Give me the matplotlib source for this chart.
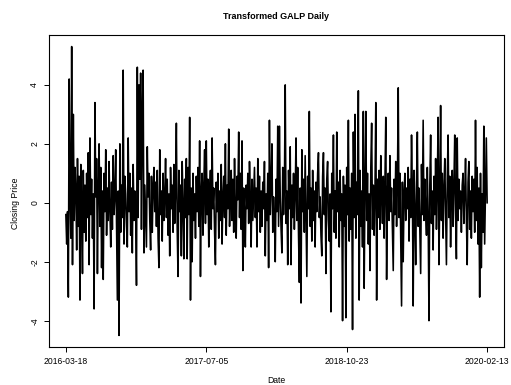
import numpy as np
import matplotlib
matplotlib.use("Agg")
import matplotlib.pyplot as plt

plt.rcParams['font.family'] = ['Liberation Sans', 'DejaVu Sans']

# valeurs (serie transformee, ~2 jours par valeur)
valeurs = [
    -0.4, -1.4, -0.3, -3.2, 4.2, 0.3, -1.2, 5.3, -2.1, 3.0, -0.6, 1.2,
    0.5, -1.6, 1.5, -0.8, 0.9, -3.3, 1.3, -0.2, -2.4, 1.1, -1.0, 0.6,
    -1.3, 1.0, -0.5, 1.7, -2.1, 2.2, -0.4, 0.8, -1.2, 0.3, -3.6, 3.4,
    0.2, 1.5, -2.4, 0.6, 2.0, -0.8, 1.2, -2.2, 0.4, -2.6, 1.0, -0.3,
    1.8, -1.1, 0.5, -0.6, 1.4, -0.2, -1.5, 0.7, -0.9, 1.6, -0.4, 0.2,
    1.8, -0.7, -3.3, 0.4, -4.5, 2.0, -1.0, 0.6, -0.5, 4.5, -1.4, 0.9,
    0.3, -0.8, -1.5, 2.2, -0.3, 1.0, -1.1, 0.5, -1.7, 1.3, -0.6, 0.4,
    -0.2, -2.8, 4.6, -0.5, 4.0, 0.8, 4.4, -0.9, 2.8, 4.5, -1.7, 0.6,
    -0.4, -1.5, 1.9, 0.2, 1.0, -0.6, -1.6, 0.9, -1.0, 0.5, 1.2, -0.3,
    0.7, -0.8, 1.1, -1.2, -2.2, 1.8, -0.4, 0.4, -1.3, 1.0, -0.6, 0.2,
    1.5, -0.5, 0.8, -1.1, 0.3, -1.8, 1.2, -0.2, 0.6, -1.0, 1.3, -0.7,
    0.4, 2.7, -0.9, -2.5, 1.1, -0.3, 0.6, -1.8, 1.4, -0.1, -1.9, 0.8,
    -0.5, 1.5, -1.9, 1.2, -0.4, 2.9, -3.3, 0.5, -2.0, 1.0, -0.6, 0.3,
    -1.2, 0.9, -0.3, 1.2, -0.8, 2.1, -2.5, 0.4, 1.0, -1.1, 0.6, 1.8,
    -0.7, 2.1, -0.4, 0.8, -1.5, 0.3, 1.1, -0.9, 2.2, -0.2, 0.5, -1.0,
    -2.1, 0.7, -0.3, 1.0, -1.2, 0.4, -0.6, 1.3, -1.4, 0.2, 0.9, -0.5,
    2.0, -1.1, 0.6, -0.2, 2.5, -0.8, 0.3, 1.1, -0.6, 0.8, -1.0, 1.5,
    -0.3, -1.2, 0.9, 0.1, 2.4, -0.5, 1.0, -0.9, 2.1, -2.3, 0.5, -0.4,
    -1.5, 0.6, -0.2, 1.0, -0.7, 1.4, 0.2, -1.5, 0.8, -0.6, 0.3, 1.2,
    -0.5, 0.5, -1.5, 1.5, -0.3, 0.9, -1.0, 0.4, -0.8, 0.7, -0.2, 1.4,
    -1.8, 0.3, -0.6, 1.0, -2.2, 2.8, -0.4, 0.6, 2.0, -1.0, 0.2, -0.5,
    -2.0, 0.8, -0.3, 2.6, -0.8, 2.6, 0.2, -0.9, -1.7, 1.2, -0.4, 0.5,
    4.0, -0.7, 0.4, -2.1, 1.1, -0.2, 1.9, -2.1, 0.6, -0.5, 1.0, -0.9,
    0.3, 2.2, -0.6, 1.2, -1.1, -2.7, 0.5, -3.4, 1.8, -0.3, 0.8, -1.0,
    1.6, -0.4, -2.5, 0.9, -0.2, 3.1, -0.8, 0.5, -1.3, 1.1, -0.6, 0.4,
    -1.5, 0.7, -0.3, 1.0, 1.7, -0.5, 0.2, -1.1, -1.8, 0.9, 1.7, -0.4,
    0.5, -2.4, 0.8, 1.4, -0.6, -1.3, 0.3, -3.7, 1.0, -0.2, 2.3, -1.0,
    0.4, -1.2, 2.4, -0.3, 0.7, -1.5, 1.1, -0.6, 0.3, -4.0, 0.9, -0.8,
    0.6, -3.9, 1.2, -0.4, 2.8, -1.3, 0.5, -0.9, 1.0, -4.3, 2.4, -0.5,
    3.0, -1.2, 0.7, -0.4, 3.8, -3.3, 1.1, -0.8, 0.4, -1.5, 3.1, -2.9,
    0.5, 3.1, -0.6, 1.0, -1.4, 0.3, -2.3, 1.2, 2.7, -0.9, 0.6, -1.1,
    0.4, 3.4, -3.3, 0.8, -0.5, 1.1, -0.9, 1.6, 0.2, -0.7, 0.9, -1.2,
    0.7, 2.9, -2.6, 0.3, 1.0, -0.6, 1.6, -0.3, 0.5, -1.0, -2.3, 0.8,
    -0.4, 1.4, -0.8, 0.6, 3.9, -0.5, 1.0, -1.2, -3.5, 0.7, -2.0, 0.3,
    1.0, -0.6, 0.5, -0.2, 1.2, -1.3, 0.8, -0.5, 2.3, 0.4, -3.5, 1.1,
    -0.3, -2.1, 0.7, 2.4, -0.8, 0.5, -1.0, -2.4, 1.3, -0.4, 2.8, -0.6,
    0.8, -0.3, -1.1, 1.2, -0.5, -4.0, 0.6, 2.3, -0.7, 0.4, -1.6, 0.9,
    -0.4, 1.5, -0.9, 0.6, 2.9, -2.1, 0.3, 3.3, -0.6, 1.0, -1.2, 0.5,
    1.5, -0.3, -2.1, 0.8, 2.3, -0.5, 0.9, -1.5, 0.2, 1.1, -0.8, 0.6,
    2.3, -0.4, -1.9, 2.2, -0.6, 0.8, -0.2, 0.4, -1.0, 0.6, 1.0, -0.7,
    0.3, 1.5, -0.5, -2.1, 0.7, 1.4, -0.9, 0.4, -1.2, 0.9, -0.3, 0.8,
    -1.0, 2.8, -0.6, 1.2, -1.4, 0.5, -3.2, 1.0, -2.2, 0.3, -1.0, 2.6,
    -1.4, 0.4, 2.2, 0.0,
]

dates_ticks = ["2016-03-18", "2017-07-05", "2018-10-23", "2020-02-13"]
y_ticks = [-4, -2, 0, 2, 4]

y = np.array(valeurs)
n = len(y)
x = np.arange(n)

fig = plt.figure(figsize=(5.11, 3.85), dpi=100)
ax = fig.add_axes([49/511, 1-347/385, 455/511, 312/385])

ax.plot(x, y, color='black', lw=1.15)

# marges a la R (4%)
dx = (n - 1) * 0.04
dy = (y.max() - y.min()) * 0.04
ax.set_xlim(-dx, n - 1 + dx)
ax.set_ylim(y.min() - dy, y.max() + dy)

pos = np.linspace(0, n - 1, len(dates_ticks))
ax.set_xticks(pos)
ax.set_xticklabels(dates_ticks)
ax.set_yticks(y_ticks)
ax.set_yticklabels([str(v) for v in y_ticks], rotation=90, va='center')
ax.tick_params(labelsize=6.2, length=3.6, width=0.7, pad=3.5, colors='black')
for s in ax.spines.values():
    s.set_linewidth(0.8)

fig.text(0.541, 1-16.7/385, "Transformed GALP Daily", ha='center', va='center',
         fontsize=6.5, fontweight='bold')
fig.text(0.541, 1-380.5/385, "Date", ha='center', va='center', fontsize=6.2)
fig.text(15.7/511, 1-203/385, "Closing Price", ha='center', va='center',
         fontsize=6.2, rotation=90)

fig.savefig("out.png", dpi=100)
